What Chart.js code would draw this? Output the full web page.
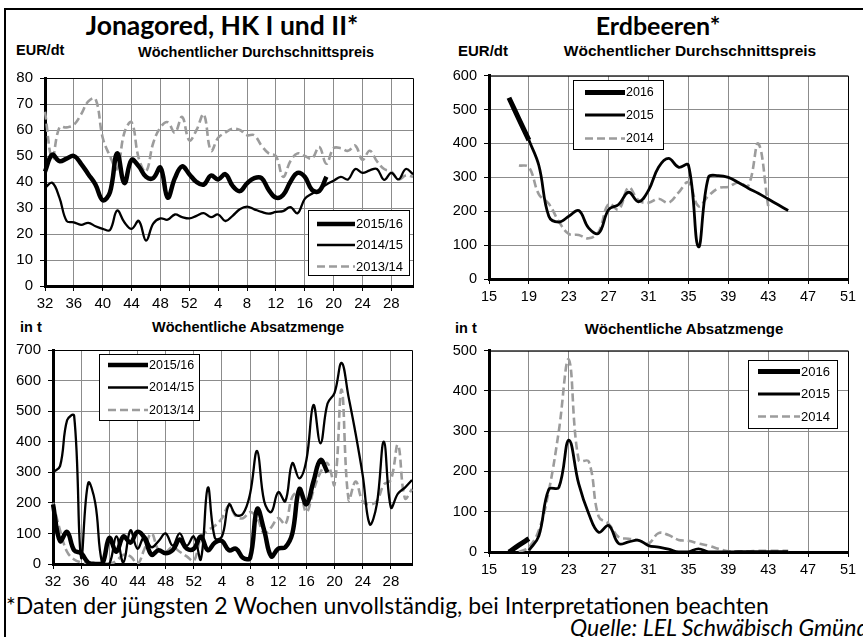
<!DOCTYPE html>
<html><head><meta charset="utf-8">
<script src="https://cdn.jsdelivr.net/npm/chart.js@4.4.1/dist/chart.umd.min.js"></script>
<style>
html,body{margin:0;padding:0;background:#fff;}
body{width:863px;height:637px;overflow:hidden;position:relative;font-family:"Liberation Sans",Arial,sans-serif;color:#000;}
.frame{position:absolute;left:4px;top:8px;width:900px;height:700px;border-left:2px solid #000;border-top:2px solid #000;box-sizing:border-box;}
.t{position:absolute;white-space:nowrap;line-height:1;}
.c{transform:translate(-50%,-50%);}
.m{transform:translate(0,-50%);}
.title{font-family:Lato,"Open Sans",sans-serif;font-weight:bold;font-size:25px;}
.sub{font-weight:bold;font-size:14.5px;}
.unit{font-weight:bold;font-size:14.5px;}
canvas{position:absolute;}
.foot{font-family:Lato,"Open Sans",sans-serif;font-size:23px;}
.src{font-family:Lato,"Open Sans",sans-serif;font-size:23px;font-style:italic;}
</style></head>
<body>
<div class="frame"></div>
<div class="t title c" style="left:222px;top:25px;font-size:26.5px;">Jonagored, HK I und II*</div>
<div class="t title c" style="left:658px;top:25px;">Erdbeeren*</div>
<div class="t unit m" style="left:16px;top:50px;">EUR/dt</div>
<div class="t sub c" style="left:256px;top:52px;">Wöchentlicher Durchschnittspreis</div>
<div class="t unit m" style="left:458px;top:50px;font-size:15px;">EUR/dt</div>
<div class="t sub c" style="left:690px;top:51px;font-size:15.5px;">Wöchentlicher Durchschnittspreis</div>
<div class="t unit m" style="left:20px;top:327px;">in t</div>
<div class="t sub c" style="left:248px;top:327px;">Wöchentliche Absatzmenge</div>
<div class="t unit m" style="left:455px;top:328px;">in t</div>
<div class="t sub c" style="left:684px;top:328px;font-size:15px;">Wöchentliche Absatzmenge</div>
<div class="t foot m" style="left:6px;top:605px;">*Daten der jüngsten 2 Wochen unvollständig, bei Interpretationen beachten</div>
<div class="t src m" style="left:570px;top:627px;">Quelle: LEL Schwäbisch Gmünd</div>

<canvas id="tl" width="425" height="258" style="left:0px;top:62px;"></canvas>
<canvas id="bl" width="425" height="266" style="left:0px;top:334px;"></canvas>
<canvas id="tr" width="423" height="255" style="left:440px;top:60px;"></canvas>
<canvas id="br" width="423" height="253" style="left:440px;top:335px;"></canvas>

<script>
// ---------- DATA ----------
const appleWeeks = ['32','33','34','35','36','37','38','39','40','41','42','43','44','45','46','47','48','49','50','51','52',
  '1','2','3','4','5','6','7','8','9','10','11','12','13','14','15','16','17','18','19','20','21','22','23','24','25','26','27','28','29','30','31'];
const appleSeries = ['2015/16','2014/15','2013/14'];
const applePrice1516 = [44,50.5,48,49,50,47,43,39,33,36,51,39.6,48.5,46,42,41.5,45.5,34,41.5,46,43,40,39,42.5,41,43,38.5,36.5,39.5,41.5,41.5,37,34,35,40,43.5,42,37,36.5,42];
const applePrice1415 = [37.8,39.7,34,25,24.5,23.5,24.3,23,22,21.5,29,24.5,22,25,17.5,24,26,25.5,27.5,26.5,26,27,28,26.5,27.5,25,27,29.5,30.5,29.5,28.5,27.8,28.5,28.8,30.3,28,33.5,35.5,37,39,40.5,42,41,45,43.5,44.5,45,40.8,43.5,41,45,43];
const applePrice1314 = [67,49,61,61,62,66,71,72,57,50,45,59,63,49,44,55,61,63,59,65,56,60,66,52,57,59,60.5,60,58,58,54,51,50,42,48,51,50,49,53.5,47,53,53,52,54,48.5,52,48,45,44,41,42.5,42];
const appleQty1516 = [195,75,105,45,35,5,0,0,85,40,90,70,105,85,30,45,35,45,80,50,50,90,45,70,75,45,50,20,20,180,110,25,50,55,100,245,195,270,340,300];
const appleQty1415 = [300,320,470,485,20,265,200,0,0,90,5,110,50,90,55,75,100,60,100,60,90,15,250,85,90,195,160,165,230,370,205,170,235,205,330,280,340,520,395,525,560,658,545,425,290,130,195,400,185,230,250,275];
const appleQty1314 = [200,110,40,15,5,0,0,0,0,10,30,25,0,50,100,45,40,55,40,25,10,85,110,125,150,190,155,150,170,150,100,120,150,130,220,235,170,240,300,330,260,570,210,270,205,195,205,260,275,390,215,245];

const strawSeries = ['2016','2015','2014'];
const strawPriceWeeks2016 = [17,18,19];
const strawPrice2016 = [535,472,410];
const strawPriceWeeks2015 = [19,20,21,22,23,24,25,26,27,28,29,30,31,32,33,34,35,36,37,38,39,40,41,42,43,44,45];
const strawPrice2015 = [410,335,185,168,185,202,150,135,205,220,256,228,262,330,356,330,336,95,300,305,300,285,268,253,236,219,202];
const strawPriceWeeks2014 = [18,19,20,21,22,23,24,25,26,27,28,29,30,31,32,33,34,35,36,37,38,39,40,41,42,43];
const strawPrice2014 = [335,330,250,222,170,133,130,120,140,222,205,270,232,225,237,225,255,285,215,245,268,272,285,275,400,215];
const strawQtyWeeks2016 = [17,18,19];
const strawQty2016 = [0,17,33];
const strawQtyWeeks2015 = [19,20,21,22,23,24,25,26,27,28,29,30,31,32,33,34,35,36,37,38,39,40,41,42,43,44,45];
const strawQty2015 = [4,40,156,160,278,169,95,49,66,21,25,29,16,12,7,0,0,8,0,0,0,1,1,1,1,1,1];
const strawQtyWeeks2014 = [18,19,20,21,22,23,24,25,26,27,28,29,30,31,32,33,34,35,36,37,38,39,40,41,42,43,44,45];
const strawQty2014 = [0,12,54,152,300,478,228,225,88,70,37,33,29,21,47,42,30,28,21,16,8,2,2,2,3,3,3,3];

// ---------- STYLE ----------
const GRID = '#8c8c8c';
const GRAY = '#9c9c9c';
Chart.defaults.font.family = "'Liberation Sans', Arial, sans-serif";
Chart.defaults.color = '#000';

const styles = [
  {borderColor:'#000', borderWidth:4.5, borderDash:[]},
  {borderColor:'#000', borderWidth:2.3, borderDash:[]},
  {borderColor:GRAY, borderWidth:2.6, borderDash:[8,4]}
];

const boxPlugin = {
  id:'boxPlugin',
  beforeDatasetsDraw(chart){
    const {ctx, chartArea:a} = chart;
    ctx.save();
    ctx.strokeStyle = '#000'; ctx.lineWidth = 1;
    ctx.beginPath();
    ctx.moveTo(a.left, a.top+0.5); ctx.lineTo(a.right+0.5, a.top+0.5); ctx.lineTo(a.right+0.5, a.bottom);
    ctx.stroke();
    ctx.restore();
  },
  afterDraw(chart, args, o){
    if(!o || !o.box) return;
    const {ctx} = chart;
    const ox = o.ox, oy = o.oy;
    ctx.save();
    const [x1,y1,x2,y2] = o.box;
    ctx.fillStyle = '#fff';
    ctx.fillRect(x1-ox, y1-oy, x2-x1, y2-y1);
    ctx.strokeStyle = '#000'; ctx.lineWidth = 1;
    ctx.strokeRect(x1-ox+0.5, y1-oy+0.5, x2-x1, y2-y1);
    chart.data.datasets.forEach((ds,i)=>{
      const y = o.rows[i]-oy;
      ctx.beginPath();
      ctx.strokeStyle = ds.borderColor; ctx.lineWidth = ds.borderWidth;
      ctx.setLineDash(ds.borderDash||[]);
      ctx.moveTo(o.lx[0]-ox, y); ctx.lineTo(o.lx[1]-ox, y);
      ctx.stroke();
      ctx.setLineDash([]);
      ctx.fillStyle = '#000';
      ctx.font = o.font + "px 'Liberation Sans', Arial, sans-serif";
      ctx.textBaseline = 'middle'; ctx.textAlign = 'left';
      ctx.fillText(ds.label, o.lx[1]-ox+1, y+0.5);
    });
    ctx.restore();
  }
};

function yAxis(max, step, width, fs){
  return {type:'linear', min:0, max:max,
    ticks:{stepSize:step, font:{size:fs}, padding:7, color:'#000'},
    grid:{color:GRID, lineWidth:1, tickLength:5, tickColor:'#000', tickWidth:1},
    border:{color:'#000', width:3},
    afterFit(s){ s.width = width; }};
}
function xCat(labels, height, fs){
  return {type:'category', offset:false,
    ticks:{autoSkip:false, maxRotation:0, minRotation:0, padding:4, font:{size:fs}, color:'#000',
      callback:(v,i)=> (i%4===0 ? labels[i] : '')},
    grid:{offset:false, lineWidth:1, tickLength:5,
      color:c=> (c.index%4===0 ? GRID : 'rgba(0,0,0,0)'),
      tickColor:c=> (c.index%4===0 ? '#000' : 'rgba(0,0,0,0)')},
    border:{color:'#000', width:3},
    afterFit(s){ s.height = height; }};
}
function xLin(height, fs){
  return {type:'linear', min:15, max:51,
    ticks:{stepSize:4, padding:4, font:{size:fs}, color:'#000'},
    grid:{color:GRID, lineWidth:1, tickLength:5, tickColor:'#000'},
    border:{color:'#000', width:3},
    afterFit(s){ s.height = height; }};
}
function pts(weeks, vals){ return weeks.map((w,i)=>({x:w, y:vals[i]})); }

function mk(id, ox, oy, datasets, labels, scales, pad, legend){
  return new Chart(document.getElementById(id), {
    type:'line',
    data:{labels:labels, datasets:datasets.map((d,i)=>Object.assign({pointRadius:0, tension:0.4, fill:false, spanGaps:true}, styles[i], d))},
    options:{responsive:false, animation:false, events:[],
      layout:{padding:pad},
      plugins:{legend:{display:false}, tooltip:{enabled:false}, boxPlugin:Object.assign({ox:ox, oy:oy}, legend)},
      scales:scales},
    plugins:[boxPlugin]
  });
}

// Top-left: apple price
mk('tl', 0, 62, [
  {label:appleSeries[0], data:applePrice1516},
  {label:appleSeries[1], data:applePrice1415},
  {label:appleSeries[2], data:applePrice1314}
], appleWeeks, {x:xCat(appleWeeks, 34, 15), y:yAxis(80, 10, 45, 15)},
  {left:0, top:14, right:12, bottom:0},
  {box:[308,210,409,275], rows:[224,245,266.5], lx:[317,355], font:13});

// Bottom-left: apple quantity
mk('bl', 0, 334, [
  {label:appleSeries[0], data:appleQty1516},
  {label:appleSeries[1], data:appleQty1415},
  {label:appleSeries[2], data:appleQty1314}
], appleWeeks, {x:xCat(appleWeeks, 36, 15), y:yAxis(700, 100, 53, 15)},
  {left:0, top:14, right:13, bottom:0},
  {box:[99,354,199,420], rows:[365,387.5,410], lx:[108,148], font:12.5});

// Top-right: strawberry price
mk('tr', 440, 60, [
  {label:strawSeries[0], data:pts(strawPriceWeeks2016, strawPrice2016), borderWidth:5},
  {label:strawSeries[1], data:pts(strawPriceWeeks2015, strawPrice2015), borderWidth:2.8},
  {label:strawSeries[2], data:pts(strawPriceWeeks2014, strawPrice2014)}
], undefined, {x:xLin(36, 14.5), y:yAxis(600, 100, 49, 14.5)},
  {left:0, top:14, right:15, bottom:0},
  {box:[573,80,663,149], rows:[92.5,115,138.5], lx:[585,625], font:12.5});

// Bottom-right: strawberry quantity
mk('br', 440, 335, [
  {label:strawSeries[0], data:pts(strawQtyWeeks2016, strawQty2016), borderWidth:5},
  {label:strawSeries[1], data:pts(strawQtyWeeks2015, strawQty2015), borderWidth:2.8},
  {label:strawSeries[2], data:pts(strawQtyWeeks2014, strawQty2014)}
], undefined, {x:xLin(36, 14.5), y:yAxis(500, 100, 49, 14.5)},
  {left:0, top:14, right:15, bottom:0},
  {box:[748,360,837,428], rows:[371.5,394,416.5], lx:[758,800], font:13});
</script>
</body></html>
